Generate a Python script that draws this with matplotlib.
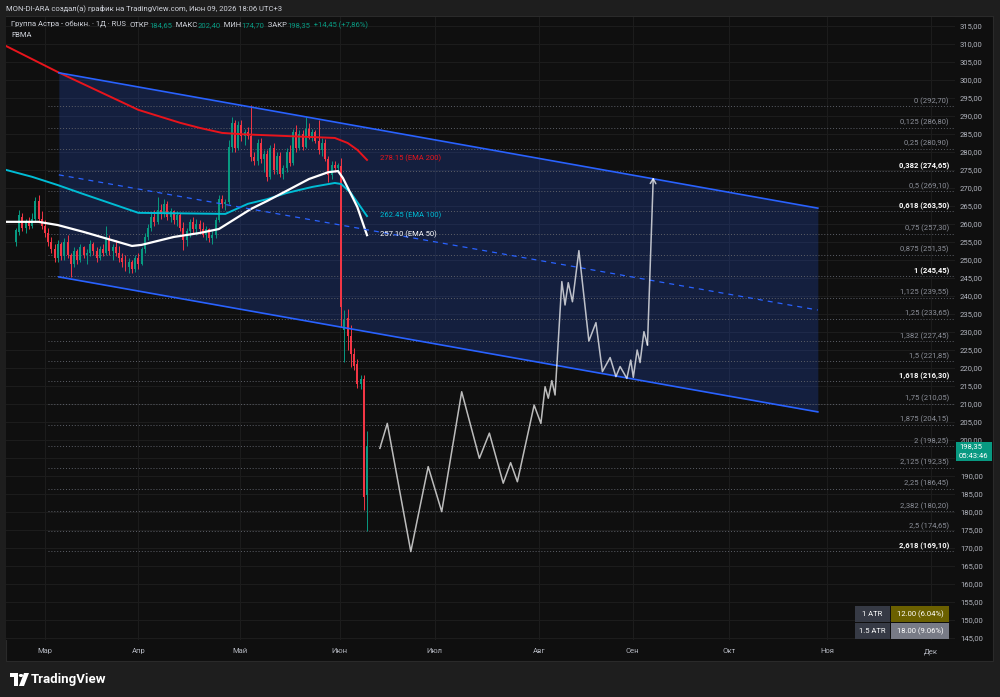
import numpy as np
import matplotlib.pyplot as plt
from matplotlib.patches import Rectangle, Polygon, Circle

plt.rcParams['font.family'] = ['Roboto', 'DejaVu Sans']

W, H = 1000, 697
BG = '#0f0f0f'
FRAME = '#1e1e1e'
GREEN = '#089981'
RED = '#f23645'
BLUE = '#2962ff'
GREY_TXT = '#b2b5be'

# --- daily candles, x = days from 1 March ---
first_day = -9
opens = [255.0, 257.8, 262.0, 259.0, 260.5, 259.5, 261.5, 266.5, 261.5, 259.5,
         257.5, 255.0, 253.0, 250.5, 254.5, 251.0, 255.0, 251.5, 249.0, 252.5,
         250.0, 253.5, 251.5, 252.0, 254.5, 252.5, 250.5, 253.0, 252.0, 256.0,
         252.5, 253.5, 252.0, 250.5, 249.5, 248.0, 249.5, 247.5, 250.5, 249.0,
         253.0, 256.5, 259.0, 262.0, 260.5, 264.0, 263.0, 265.5, 262.0, 263.5,
         261.0, 262.5, 259.0, 255.5, 258.0, 260.5, 258.5, 260.0, 258.5, 257.0,
         258.5, 256.0, 257.0, 261.0, 267.0, 265.5, 266.0, 281.5, 288.0, 281.0,
         287.5, 284.5, 285.5, 284.5, 278.5, 277.5, 282.5, 278.0, 279.5, 273.0,
         281.0, 275.0, 279.0, 274.0, 275.5, 280.0, 277.0, 285.5, 281.0, 285.0,
         281.5, 286.5, 284.0, 285.5, 283.0, 280.5, 282.5, 278.0, 273.5, 276.5,
         275.5, 276.0, 230.6, 234.0, 229.0, 224.0, 221.0, 215.5, 217.0, 184.65]
highs = [259.0, 264.0, 263.0, 261.5, 262.0, 263.0, 267.5, 268.0, 263.5, 261.0,
         259.0, 256.5, 254.5, 255.5, 255.0, 256.0, 257.0, 252.0, 253.5, 253.0,
         254.5, 254.0, 253.0, 255.5, 255.0, 253.5, 254.0, 254.5, 259.5, 257.0,
         254.5, 255.5, 254.0, 252.0, 251.5, 250.5, 250.0, 251.5, 252.0, 253.5,
         257.5, 260.0, 263.0, 264.0, 267.5, 265.5, 267.0, 266.5, 264.5, 264.0,
         263.5, 263.0, 260.5, 259.0, 261.5, 262.0, 261.5, 261.0, 260.5, 259.5,
         259.0, 258.0, 262.0, 268.0, 268.0, 267.0, 283.3, 289.7, 289.0, 288.5,
         289.0, 286.5, 287.0, 293.0, 280.0, 283.5, 284.0, 280.5, 280.5, 282.0,
         282.5, 280.0, 280.0, 276.5, 281.0, 282.0, 286.5, 287.5, 286.0, 286.0,
         289.7, 288.0, 286.5, 286.0, 289.0, 284.0, 283.5, 279.0, 277.5, 277.5,
         277.0, 278.3, 236.0, 236.5, 232.0, 225.5, 222.5, 218.0, 218.0, 202.4]
lows = [254.0, 257.0, 258.0, 257.5, 258.5, 259.0, 260.5, 260.5, 258.5, 256.5,
        254.0, 252.0, 249.5, 249.5, 250.0, 250.0, 250.5, 245.3, 248.0, 249.0,
        249.5, 250.5, 249.0, 251.0, 251.5, 249.5, 250.0, 251.0, 251.5, 251.5,
        250.0, 251.0, 249.5, 248.0, 247.0, 246.5, 246.5, 246.8, 247.5, 248.5,
        252.0, 255.5, 258.0, 259.5, 260.0, 261.5, 262.0, 261.0, 260.5, 260.0,
        259.5, 258.0, 252.8, 254.0, 256.5, 257.5, 257.0, 257.5, 256.5, 255.5,
        255.0, 254.5, 256.0, 260.5, 264.5, 264.0, 265.5, 280.0, 280.0, 280.5,
        283.0, 282.0, 283.5, 277.5, 276.5, 276.5, 277.0, 274.5, 272.0, 272.5,
        274.0, 274.0, 273.0, 272.5, 274.5, 276.0, 276.5, 280.0, 280.5, 280.5,
        281.0, 283.5, 283.0, 282.5, 279.5, 279.0, 277.5, 271.7, 272.5, 274.5,
        274.5, 231.4, 221.7, 225.0, 220.3, 219.5, 214.4, 214.3, 180.6, 174.7]
closes = [258.3, 262.5, 259.0, 260.5, 259.5, 261.5, 266.5, 261.5, 259.5, 257.5,
          255.0, 253.0, 250.5, 254.5, 251.0, 255.0, 251.5, 249.0, 252.5, 250.0,
          253.5, 251.5, 252.0, 254.5, 252.5, 250.5, 253.0, 252.0, 256.0, 252.5,
          253.5, 252.0, 250.5, 249.5, 248.0, 249.5, 247.5, 250.5, 249.0, 253.0,
          256.5, 259.0, 262.0, 260.5, 264.0, 263.0, 265.5, 262.0, 263.5, 261.0,
          262.5, 259.0, 255.5, 258.0, 260.5, 258.5, 260.0, 258.5, 257.0, 258.5,
          256.0, 257.0, 261.0, 267.0, 265.5, 266.0, 281.5, 288.0, 281.0, 287.5,
          284.5, 285.5, 284.5, 278.5, 277.5, 282.5, 278.0, 279.5, 273.0, 281.0,
          275.0, 279.0, 274.0, 275.5, 280.0, 277.0, 285.5, 281.0, 285.0, 281.5,
          286.5, 284.0, 285.5, 283.0, 280.5, 282.5, 278.0, 273.5, 276.5, 275.5,
          276.5, 237.0, 233.3, 229.0, 224.0, 220.5, 215.5, 217.0, 184.2, 198.35]

# --- moving averages ---
ema200_days = [-12, 4, 29, 42, 48, 55, 62, 90, 94, 97, 100]
ema200_vals = [309.4, 302.2, 291.7, 288.1, 286.7, 285.3, 284.9, 283.9, 282.5, 280.6, 277.8]
ema100_days = [-12, -4, 4, 11, 29, 56, 63, 69, 75, 83, 90, 92, 95, 100]
ema100_vals = [275.0, 273.1, 270.8, 268.6, 263.1, 262.8, 265.6, 266.9, 268.6, 270.3, 271.4, 271.1, 268.6, 262.2]
ema50_days = [-12, -2, 4, 12, 27, 30, 40, 48, 54, 59, 64, 69, 75, 82, 88, 91, 92.5, 97, 100]
ema50_vals = [260.6, 260.6, 259.7, 257.8, 253.9, 254.2, 256.4, 257.5, 258.6, 261.4, 264.2,
              266.4, 269.2, 272.5, 274.4, 274.7, 272.8, 264.7, 256.9]
ema_labels = ['278.15 (EMA 200)', '262.45 (EMA 100)', '257.10 (EMA 50)']
ema_label_prices = [278.15, 262.45, 257.10]

# --- channel ---
chan_days = [4.3, 240]
chan_upper = [302.0, 264.4]
chan_lower = [245.3, 207.8]

# --- fibonacci levels ---
fib_ratios = ['0', '0,125', '0,25', '0,382', '0,5', '0,618', '0,75', '0,875', '1', '1,125', '1,25',
              '1,382', '1,5', '1,618', '1,75', '1,875', '2', '2,125', '2,25', '2,382', '2,5', '2,618']
fib_prices = [292.70, 286.80, 280.90, 274.65, 269.10, 263.50, 257.30, 251.35, 245.45, 239.55, 233.65,
              227.45, 221.85, 216.30, 210.05, 204.15, 198.25, 192.35, 186.45, 180.20, 174.65, 169.10]
fib_bold = ['0,382', '0,618', '1', '1,618', '2,618']

# --- projected path ---
path_days = [104.0, 106.3, 113.6, 119.0, 123.2, 129.4, 134.9, 138.0, 142.3, 144.6,
             146.7, 151.9, 154.0, 155.3, 156.3, 157.4, 158.4, 160.5, 161.5, 162.5,
             163.8, 165.8, 168.9, 171.1, 173.1, 175.5, 177.3, 178.6, 180.7, 181.9,
             182.7, 183.9, 184.8, 186.0, 187.1, 188.9]
path_prices = [197.7, 204.6, 169.0, 192.6, 180.1, 213.4, 194.9, 201.9, 188.0, 193.7,
               188.4, 209.7, 204.6, 214.8, 211.6, 216.5, 212.5, 244.0, 237.5, 243.7,
               238.4, 252.6, 227.5, 232.6, 219.0, 222.9, 217.6, 220.4, 217.1, 222.2,
               217.4, 225.0, 221.5, 230.1, 226.4, 273.0]

month_names = ['Мар', 'Апр', 'Май', 'Июн', 'Июл', 'Авг', 'Сен', 'Окт', 'Ноя', 'Дек']
month_pos = [0, 29, 60.5, 91.5, 121, 153.5, 182.5, 212.5, 243, 275]
price_ticks = list(range(145, 320, 5))
hidden_ticks = [195]  # covered by the last-price tag

atr_names = ['1 ATR', '1.5 ATR']
atr_values = ['12.00 (6.04%)', '18.00 (9.06%)']


def fx(px):
    return px / W


def fy(py):
    return 1 - py / H


fig = plt.figure(figsize=(W / 100, H / 100), dpi=100, facecolor=FRAME)
fig.add_artist(Rectangle((fx(6), fy(661)), (993 - 6) / W, (661 - 16) / H, transform=fig.transFigure,
                         facecolor=BG, edgecolor='#2a2a2a', lw=0.8, zorder=-1))

ax = fig.add_axes([fx(6), fy(640), (955 - 6) / W, (640 - 17) / H])
ax.set_facecolor(BG)
x_left, x_right = -12.11, 282.6
ax.set_xlim(x_left, x_right)
ax.set_ylim(144.44, 317.5)

# channel
ax.fill_between(chan_days, chan_lower, chan_upper, color=BLUE, alpha=0.2, lw=0, zorder=1)
ax.plot(chan_days, chan_upper, color=BLUE, lw=1.2, zorder=6)
ax.plot(chan_days, chan_lower, color=BLUE, lw=1.2, zorder=6)
chan_mid = [(a + b) / 2 for a, b in zip(chan_upper, chan_lower)]
ax.plot(chan_days, chan_mid, color=BLUE, lw=0.9, ls=(0, (4, 4)), zorder=6)

# fib levels
for r, p in zip(fib_ratios, fib_prices):
    bold = r in fib_bold
    ax.plot([1, x_right], [p, p], color='#5d6068', lw=0.7, ls=(0, (1, 2)), zorder=2)
    ax.annotate(f'{r} ({p:.2f})'.replace('.', ','), xy=(280.7, p), xytext=(0, 1.2),
                textcoords='offset points', ha='right', va='bottom',
                color='white' if bold else '#8c8f99', fontsize=5.5,
                fontweight='bold' if bold else 'normal', zorder=8)

# candles
days = first_day + np.arange(len(closes))
o = np.array(opens)
c = np.array(closes)
cols = [GREEN if ci >= oi else RED for oi, ci in zip(o, c)]
ax.vlines(days, lows, highs, colors=cols, lw=0.7, zorder=4)
ax.bar(days, np.maximum(np.abs(c - o), 0.2), bottom=np.minimum(o, c), width=0.62,
       color=cols, lw=0, zorder=4)

# EMAs
ax.plot(ema200_days, ema200_vals, color='#e8141c', lw=1.4, zorder=5)
ax.plot(ema100_days, ema100_vals, color='#00bcd4', lw=1.4, zorder=5)
ax.plot(ema50_days, ema50_vals, color='white', lw=1.6, zorder=5)
for lab, p, col in zip(ema_labels, ema_label_prices, ['#e8141c', '#00bcd4', 'white']):
    ax.text(104, p, lab, color=col, fontsize=5.5, va='center', ha='left', zorder=8)

# projected path
ax.plot(path_days[:-1], path_prices[:-1], color='white', alpha=0.72, lw=1.1, zorder=7)
ax.annotate('', xy=(path_days[-1], path_prices[-1]), xytext=(path_days[-2], path_prices[-2]),
            arrowprops=dict(arrowstyle='->,head_length=0.35,head_width=0.2', color='white',
                            alpha=0.72, lw=1.1, shrinkA=0, shrinkB=0), zorder=7)

# axes
ax.yaxis.tick_right()
ax.set_yticks(price_ticks)
ax.set_yticklabels(['' if v in hidden_ticks else f'{v},00' for v in price_ticks])
ax.tick_params(axis='y', length=0, pad=3.6, labelsize=5.5, labelcolor=GREY_TXT)
ax.set_xticks(month_pos)
ax.set_xticklabels(month_names)
ax.tick_params(axis='x', length=0, pad=6, labelsize=5.5, labelcolor=GREY_TXT)
ax.grid(True, color='#1c1c1c', lw=0.8)
ax.set_axisbelow(True)
for s in ax.spines.values():
    s.set_visible(False)

# header texts
fig.text(fx(6), fy(8), 'MON-DI-ARA создал(а) график на TradingView.com, Июн 09, 2026 18:06 UTC+3',
         color='#d1d4dc', fontsize=5.5, va='center', ha='left')
renderer = fig.canvas.get_renderer()
segments = [('Группа Астра - обыкн. · 1Д · RUS  ', '#d1d4dc'), ('ОТКР', '#d1d4dc'), ('184,65', GREEN),
            ('  МАКС', '#d1d4dc'), ('202,40', GREEN), ('  МИН', '#d1d4dc'), ('174,70', GREEN),
            ('  ЗАКР', '#d1d4dc'), ('198,35', GREEN), ('  +14,45 (+7,86%)', GREEN)]
xp = 11
for s, col in segments:
    t = fig.text(fx(xp), fy(25), s, color=col, fontsize=5.5, va='center', ha='left')
    xp += t.get_window_extent(renderer).width
fig.text(fx(11), fy(35), 'FBMA', color='#d1d4dc', fontsize=5.5, va='center', ha='left')

# last price tag
fig.add_artist(Rectangle((fx(956), fy(461)), 36 / W, 19 / H, transform=fig.transFigure,
                         facecolor=GREEN, lw=0, zorder=5))
fig.text(fx(959), fy(446.5), '198,35', color='white', fontsize=5.5, va='center', ha='left', zorder=6)
fig.text(fx(959), fy(455.5), '05:43:46', color='white', fontsize=5.5, va='center', ha='left', zorder=6)

# ATR table
rows_y = [(606, 622), (623, 639)]
val_bg = ['#6b6000', '#787b86']
for (y0, y1), name, val, vb in zip(rows_y, atr_names, atr_values, val_bg):
    fig.add_artist(Rectangle((fx(855), fy(y1)), 35 / W, (y1 - y0) / H, transform=fig.transFigure,
                             facecolor='#363a45', lw=0, zorder=5))
    fig.add_artist(Rectangle((fx(891), fy(y1)), 58 / W, (y1 - y0) / H, transform=fig.transFigure,
                             facecolor=vb, lw=0, zorder=5))
    fig.text(fx(872.5), fy((y0 + y1) / 2), name, color='white', fontsize=5.5, va='center', ha='center', zorder=6)
    fig.text(fx(920), fy((y0 + y1) / 2), val, color='white', fontsize=5.5, va='center', ha='center', zorder=6)

# TradingView logo
fig.add_artist(Rectangle((fx(10), fy(677)), 8 / W, 4 / H, transform=fig.transFigure, facecolor='white', lw=0))
fig.add_artist(Rectangle((fx(14), fy(686)), 4 / W, 13 / H, transform=fig.transFigure, facecolor='white', lw=0))
fig.add_artist(Circle((fx(21), fy(675.5)), 2.2 / W, transform=fig.transFigure, facecolor='white', lw=0))
fig.add_artist(Polygon([(fx(24), fy(673)), (fx(29), fy(673)), (fx(24), fy(686)), (fx(19), fy(686))],
                       closed=True, transform=fig.transFigure, facecolor='white', lw=0))
fig.text(fx(31), fy(679.5), 'TradingView', color='white', fontsize=9.5, fontweight='bold',
         va='center', ha='left')

fig.savefig('out.png', dpi=100, facecolor=FRAME)
